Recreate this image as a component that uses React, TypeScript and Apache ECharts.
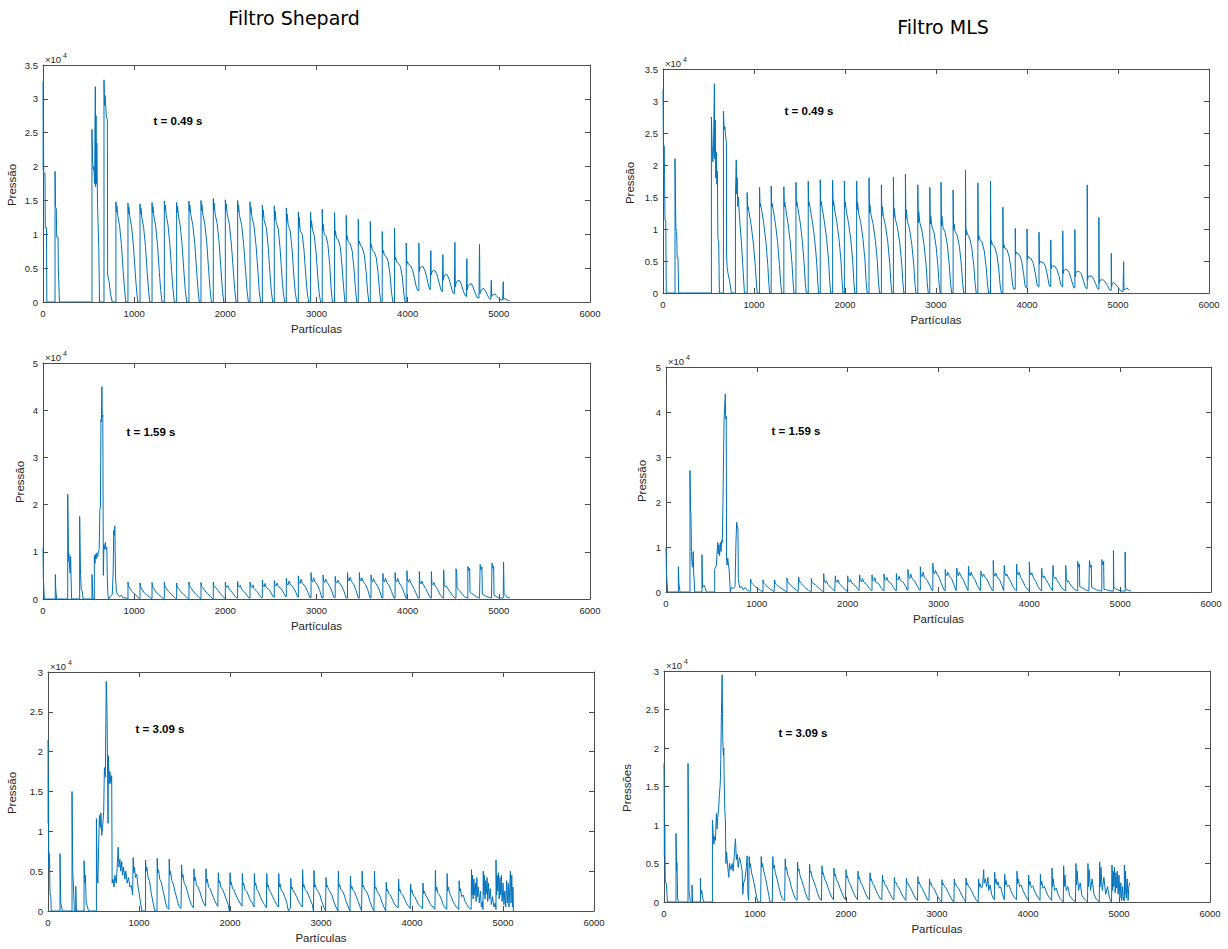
import React, { useEffect, useRef } from 'react';
import * as echarts from 'echarts';

// Pressure (units of 1e4) against particle index, Shepard filter, t = 0.49 s
const shepardT049: [number, number][] = [
  [0, 3.25], [3, 1.95], [5, 2.55], [8, 1.9], [22, 1.9], [25, 1.1], [38, 1.1], [42, 0],
  [132, 0], [132, 1.93], [138, 1.4], [146, 1.38], [150, 0.96], [165, 0.96], [168, 0.52], [175, 0.52], [180, 0],
  [537, 0], [537, 2.55], [545, 2.05], [552, 1.95], [558, 2.0], [566, 1.75], [574, 3.18], [577, 1.7], [582, 2.75], [586, 1.75], [590, 2.35], [594, 1.9], [598, 1.45], [605, 1.45], [612, 0.8], [620, 0],
  [669, 0], [669, 3.28], [675, 2.9], [680, 3.05], [686, 2.95], [695, 2.72], [706, 2.7], [709, 0.4], [725, 0.3], [740, 0.12], [760, 0],
  [800, 0], [800, 1.48], [805, 1.33], [810, 1.42], [820, 1.28], [840, 1.13], [860, 0.85], [880, 0.45], [895, 0.18], [908, 0],
  [932, 0], [932, 1.46], [937, 1.31], [942, 1.4], [952, 1.26], [972, 1.11], [992, 0.83], [1012, 0.43], [1027, 0.16], [1040, 0],
  [1064, 0], [1064, 1.45], [1069, 1.3], [1074, 1.39], [1084, 1.25], [1104, 1.1], [1124, 0.82], [1144, 0.42], [1159, 0.15], [1172, 0],
  [1196, 0], [1196, 1.47], [1201, 1.32], [1206, 1.41], [1216, 1.27], [1236, 1.12], [1256, 0.84], [1276, 0.44], [1291, 0.17], [1306, 0],
  [1331, 0], [1331, 1.49], [1336, 1.34], [1341, 1.43], [1351, 1.29], [1371, 1.14], [1391, 0.86], [1411, 0.46], [1426, 0.19], [1440, 0],
  [1466, 0], [1466, 1.47], [1471, 1.32], [1476, 1.41], [1486, 1.27], [1506, 1.12], [1526, 0.84], [1546, 0.44], [1561, 0.17], [1576, 0],
  [1601, 0], [1601, 1.49], [1606, 1.34], [1611, 1.43], [1621, 1.29], [1643, 1.14], [1665, 0.86], [1685, 0.46], [1700, 0.19], [1714, 0],
  [1733, 0], [1733, 1.5], [1738, 1.35], [1743, 1.44], [1753, 1.3], [1775, 1.15], [1797, 0.87], [1817, 0.47], [1832, 0.2], [1847, 0],
  [1868, 0], [1868, 1.53], [1873, 1.36], [1878, 1.46], [1888, 1.3], [1910, 1.16], [1932, 0.88], [1952, 0.48], [1967, 0.2], [1982, 0],
  [2000, 0], [2000, 1.51], [2005, 1.35], [2010, 1.45], [2020, 1.3], [2044, 1.15], [2066, 0.86], [2088, 0.46], [2103, 0.18], [2118, 0],
  [2135, 0], [2135, 1.5], [2140, 1.33], [2145, 1.43], [2155, 1.28], [2179, 1.14], [2201, 0.85], [2223, 0.45], [2238, 0.17], [2253, 0],
  [2271, 0], [2271, 1.48], [2276, 1.32], [2281, 1.4], [2291, 1.26], [2315, 1.12], [2337, 0.83], [2359, 0.43], [2372, 0.15], [2388, 0],
  [2406, 0], [2406, 1.43], [2411, 1.25], [2416, 1.36], [2426, 1.2], [2450, 1.1], [2470, 0.82], [2490, 0.42], [2505, 0.15], [2520, 0],
  [2537, 0], [2537, 1.42], [2542, 1.22], [2547, 1.34], [2557, 1.18], [2580, 1.08], [2600, 0.8], [2620, 0.4], [2636, 0.14], [2652, 0],
  [2669, 0], [2669, 1.39], [2674, 1.18], [2679, 1.3], [2689, 1.14], [2712, 1.05], [2732, 0.78], [2752, 0.38], [2768, 0.13], [2784, 0],
  [2801, 0], [2801, 1.33], [2806, 1.1], [2811, 1.25], [2821, 1.05], [2844, 1.0], [2864, 0.75], [2884, 0.36], [2900, 0.12], [2916, 0],
  [2935, 0], [2935, 1.33], [2940, 1.1], [2945, 1.2], [2955, 1.08], [2975, 0.98], [2995, 0.74], [3015, 0.36], [3030, 0.12], [3045, 0],
  [3063, 0], [3063, 1.37], [3068, 1.05], [3073, 1.15], [3085, 1.0], [3105, 0.97], [3125, 0.85], [3145, 0.55], [3160, 0.2], [3175, 0],
  [3198, 0], [3198, 1.32], [3203, 0.98], [3208, 1.05], [3220, 0.94], [3240, 0.92], [3262, 0.8], [3282, 0.5], [3298, 0.2], [3312, 0],
  [3326, 0], [3326, 1.28], [3331, 0.92], [3336, 0.98], [3348, 0.89], [3370, 0.86], [3392, 0.75], [3412, 0.48], [3428, 0.18], [3442, 0],
  [3458, 0], [3458, 1.22], [3463, 0.85], [3470, 0.9], [3482, 0.84], [3502, 0.8], [3524, 0.7], [3544, 0.45], [3560, 0.16], [3574, 0],
  [3590, 0], [3590, 1.19], [3595, 0.8], [3602, 0.85], [3614, 0.76], [3634, 0.74], [3656, 0.65], [3676, 0.42], [3692, 0.15], [3706, 0],
  [3721, 0], [3721, 1.04], [3726, 0.72], [3733, 0.76], [3745, 0.69], [3765, 0.67], [3787, 0.6], [3807, 0.4], [3823, 0.14], [3838, 0],
  [3856, 0], [3856, 1.09], [3861, 0.62], [3868, 0.66], [3880, 0.59], [3900, 0.57], [3922, 0.52], [3942, 0.36], [3958, 0.12], [3972, 0],
  [3984, 0], [3984, 0.87], [3989, 0.55], [3996, 0.6], [4008, 0.56], [4030, 0.54], [4052, 0.48], [4075, 0.35], [4095, 0.22], [4110, 0.17],
  [4123, 0.17], [4123, 0.87], [4128, 0.45], [4135, 0.5], [4150, 0.52], [4170, 0.52], [4190, 0.46], [4210, 0.36], [4232, 0.22], [4248, 0.18],
  [4254, 0.18], [4254, 0.76], [4259, 0.4], [4266, 0.44], [4282, 0.47], [4302, 0.46], [4322, 0.4], [4342, 0.3], [4365, 0.18], [4380, 0.15],
  [4386, 0.15], [4386, 0.7], [4391, 0.32], [4398, 0.37], [4414, 0.41], [4434, 0.4], [4454, 0.34], [4474, 0.24], [4495, 0.14], [4512, 0.12],
  [4518, 0.12], [4518, 0.88], [4523, 0.22], [4530, 0.28], [4546, 0.31], [4566, 0.32], [4586, 0.27], [4606, 0.18], [4628, 0.1], [4645, 0.08],
  [4649, 0.08], [4649, 0.64], [4654, 0.18], [4662, 0.23], [4678, 0.26], [4698, 0.27], [4718, 0.22], [4738, 0.14], [4760, 0.07], [4782, 0.06],
  [4788, 0.06], [4788, 0.85], [4793, 0.12], [4800, 0.16], [4815, 0.19], [4835, 0.2], [4855, 0.16], [4875, 0.1], [4895, 0.05], [4912, 0.04],
  [4917, 0.04], [4917, 0.32], [4922, 0.08], [4935, 0.11], [4955, 0.12], [4975, 0.09], [5000, 0.05], [5025, 0.03], [5042, 0.03],
  [5048, 0.03], [5048, 0.3], [5053, 0.04], [5070, 0.05], [5090, 0.03], [5105, 0.02], [5118, 0.02],
];

// MLS filter, t = 0.49 s
const mlsT049: [number, number][] = [
  [0, 3.17], [4, 2.37], [7, 1.82], [12, 2.3], [17, 1.85], [22, 1.14], [30, 1.14], [36, 0],
  [132, 0], [132, 2.1], [138, 1.38], [142, 1.0], [150, 0.96], [156, 0.55], [165, 0.55], [172, 0],
  [532, 0], [532, 2.75], [540, 2.3], [548, 2.05], [555, 2.25], [565, 3.27], [568, 2.1], [574, 2.7], [580, 1.8], [586, 2.2], [592, 1.7], [598, 1.9], [603, 0.85], [612, 0.8], [620, 0],
  [664, 0], [664, 2.84], [672, 2.55], [680, 2.6], [688, 2.45], [697, 2.35], [698, 0.6], [705, 0.4], [715, 0.3], [730, 0.2], [752, 0],
  [796, 0], [796, 1.5], [805, 2.08], [810, 1.55], [815, 1.8], [822, 1.35], [828, 1.5], [840, 1.2], [862, 0.78], [880, 0.36], [895, 0],
  [925, 0], [925, 1.57], [930, 1.3], [935, 1.35], [947, 1.25], [970, 1.05], [995, 0.75], [1015, 0.4], [1027, 0.14], [1035, 0],
  [1061, 0], [1061, 1.65], [1066, 1.35], [1071, 1.4], [1083, 1.3], [1106, 1.1], [1131, 0.8], [1151, 0.45], [1163, 0.15], [1172, 0],
  [1189, 0], [1189, 1.67], [1194, 1.35], [1199, 1.4], [1211, 1.3], [1234, 1.1], [1259, 0.8], [1279, 0.45], [1293, 0.15], [1305, 0],
  [1328, 0], [1328, 1.66], [1333, 1.35], [1338, 1.42], [1350, 1.3], [1373, 1.1], [1398, 0.8], [1418, 0.45], [1430, 0.15], [1440, 0],
  [1461, 0], [1461, 1.73], [1466, 1.36], [1471, 1.42], [1483, 1.32], [1506, 1.12], [1531, 0.82], [1551, 0.46], [1564, 0.15], [1575, 0],
  [1596, 0], [1596, 1.75], [1601, 1.36], [1606, 1.42], [1618, 1.32], [1641, 1.12], [1666, 0.85], [1688, 0.5], [1700, 0.18], [1710, 0],
  [1728, 0], [1728, 1.77], [1733, 1.36], [1738, 1.43], [1750, 1.32], [1773, 1.12], [1798, 0.85], [1820, 0.5], [1832, 0.18], [1842, 0],
  [1864, 0], [1864, 1.76], [1869, 1.36], [1874, 1.44], [1886, 1.3], [1909, 1.12], [1934, 0.85], [1956, 0.5], [1968, 0.18], [1978, 0],
  [1993, 0], [1993, 1.75], [1998, 1.34], [2003, 1.42], [2015, 1.28], [2038, 1.1], [2063, 0.84], [2085, 0.5], [2097, 0.18], [2108, 0],
  [2128, 0], [2128, 1.75], [2133, 1.3], [2138, 1.42], [2150, 1.25], [2173, 1.1], [2198, 0.84], [2220, 0.5], [2232, 0.18], [2243, 0],
  [2264, 0], [2264, 1.8], [2269, 1.25], [2274, 1.38], [2286, 1.22], [2309, 1.08], [2334, 0.82], [2356, 0.48], [2368, 0.17], [2380, 0],
  [2400, 0], [2400, 1.69], [2405, 1.2], [2410, 1.35], [2422, 1.2], [2445, 1.05], [2470, 0.8], [2492, 0.46], [2504, 0.16], [2515, 0],
  [2532, 0], [2532, 1.81], [2537, 1.18], [2542, 1.32], [2554, 1.15], [2577, 1.02], [2602, 0.78], [2624, 0.45], [2636, 0.16], [2647, 0],
  [2664, 0], [2664, 1.86], [2669, 1.15], [2674, 1.3], [2686, 1.12], [2709, 1.0], [2734, 0.76], [2756, 0.44], [2768, 0.15], [2780, 0],
  [2800, 0], [2800, 1.69], [2805, 1.1], [2810, 1.28], [2822, 1.1], [2845, 0.98], [2870, 0.74], [2892, 0.42], [2904, 0.15], [2915, 0],
  [2932, 0], [2932, 1.65], [2937, 1.08], [2942, 1.2], [2954, 1.05], [2977, 0.95], [3002, 0.72], [3022, 0.4], [3034, 0.14], [3045, 0],
  [3055, 0], [3055, 1.73], [3060, 1.05], [3065, 1.2], [3077, 1.02], [3100, 0.95], [3125, 0.75], [3147, 0.42], [3160, 0.15], [3172, 0],
  [3188, 0], [3188, 1.61], [3193, 0.98], [3198, 1.08], [3210, 0.96], [3233, 0.9], [3258, 0.72], [3280, 0.42], [3293, 0.15], [3305, 0],
  [3324, 0], [3324, 1.92], [3329, 0.9], [3334, 0.98], [3346, 0.92], [3369, 0.86], [3394, 0.7], [3416, 0.42], [3430, 0.15], [3442, 0],
  [3460, 0], [3460, 1.72], [3465, 0.82], [3470, 0.9], [3482, 0.84], [3505, 0.8], [3530, 0.66], [3552, 0.4], [3566, 0.14], [3578, 0],
  [3599, 0], [3599, 1.75], [3604, 0.75], [3609, 0.82], [3621, 0.76], [3644, 0.72], [3669, 0.6], [3691, 0.36], [3705, 0.12], [3718, 0],
  [3735, 0], [3735, 1.34], [3740, 0.7], [3745, 0.76], [3757, 0.7], [3780, 0.68], [3805, 0.56], [3827, 0.34], [3842, 0.12], [3855, 0.06],
  [3871, 0.06], [3871, 1.01], [3876, 0.6], [3881, 0.64], [3893, 0.62], [3916, 0.6], [3941, 0.5], [3963, 0.3], [3978, 0.12], [3990, 0.08],
  [4000, 0.08], [4000, 1.0], [4005, 0.52], [4010, 0.58], [4022, 0.55], [4045, 0.54], [4070, 0.46], [4092, 0.3], [4110, 0.14], [4122, 0.1],
  [4132, 0.1], [4132, 0.95], [4137, 0.45], [4142, 0.5], [4154, 0.48], [4177, 0.48], [4202, 0.42], [4224, 0.28], [4240, 0.14], [4252, 0.1],
  [4261, 0.1], [4261, 0.83], [4266, 0.38], [4271, 0.43], [4283, 0.42], [4306, 0.42], [4331, 0.36], [4353, 0.26], [4370, 0.14], [4383, 0.1],
  [4393, 0.1], [4393, 0.97], [4398, 0.3], [4403, 0.36], [4415, 0.36], [4438, 0.37], [4463, 0.32], [4485, 0.22], [4505, 0.12], [4517, 0.08],
  [4526, 0.08], [4526, 0.99], [4531, 0.25], [4536, 0.32], [4548, 0.33], [4571, 0.34], [4596, 0.3], [4618, 0.2], [4640, 0.1], [4652, 0.07],
  [4662, 0.07], [4662, 1.69], [4666, 0.2], [4671, 0.26], [4683, 0.26], [4706, 0.27], [4731, 0.22], [4753, 0.15], [4772, 0.08], [4782, 0.06],
  [4790, 0.06], [4790, 1.18], [4794, 0.15], [4800, 0.2], [4812, 0.2], [4835, 0.21], [4860, 0.17], [4882, 0.12], [4905, 0.06], [4918, 0.04],
  [4926, 0.04], [4926, 0.62], [4930, 0.1], [4936, 0.15], [4950, 0.16], [4972, 0.14], [4995, 0.1], [5020, 0.05], [5040, 0.03], [5055, 0.02],
  [5062, 0.02], [5062, 0.49], [5066, 0.05], [5080, 0.06], [5100, 0.08], [5115, 0.05], [5120, 0.06],
];

// Shepard filter, t = 1.59 s
const shepardT159: [number, number][] = [
  [0, 1.08], [4, 0.44], [10, 0.44], [15, 0],
  [135, 0], [135, 0.52], [140, 0.2], [146, 0.2], [150, 0],
  [271, 0], [271, 2.22], [276, 1.55], [280, 0.8], [285, 0.95], [292, 0.65], [298, 0.55], [303, 0.9], [308, 0.45], [314, 0],
  [402, 0], [402, 1.75], [408, 0.95], [412, 0.5], [420, 0.2], [432, 0.15], [440, 0],
  [537, 0], [537, 0.52], [542, 0.3], [548, 0],
  [563, 0], [563, 0.92], [570, 0.75], [578, 0.95], [585, 0.85], [592, 0.98], [600, 0.9], [608, 1.0], [616, 1.05], [624, 1.9], [630, 1.95], [636, 3.8], [640, 3.75], [646, 4.5], [650, 3.85], [656, 3.9], [662, 0.5], [668, 1.15], [676, 1.05], [684, 1.2], [692, 1.05], [700, 1.1], [706, 0.4], [712, 0.1], [720, 0],
  [740, 0.05], [760, 0.1], [770, 0.6], [776, 1.45], [782, 1.35], [788, 1.55], [795, 0.5], [805, 0.15], [820, 0.1], [840, 0.05], [860, 0.08], [880, 0.02], [900, 0.03], [920, 0],
  [932, 0], [932, 0.36], [938, 0.28], [952, 0.23], [977, 0.16], [1007, 0.1], [1037, 0.05], [1054, 0.01],
  [1064, 0.01], [1064, 0.34], [1070, 0.26], [1084, 0.21], [1109, 0.14], [1139, 0.08], [1169, 0.04], [1186, 0.01],
  [1196, 0.01], [1196, 0.35], [1202, 0.27], [1216, 0.22], [1241, 0.15], [1271, 0.09], [1301, 0.04], [1320, 0.01],
  [1331, 0.01], [1331, 0.36], [1337, 0.28], [1351, 0.23], [1376, 0.16], [1406, 0.1], [1436, 0.05], [1455, 0.01],
  [1466, 0.01], [1466, 0.34], [1472, 0.26], [1486, 0.22], [1511, 0.16], [1541, 0.1], [1571, 0.05], [1590, 0.01],
  [1601, 0.01], [1601, 0.36], [1607, 0.28], [1621, 0.24], [1646, 0.17], [1676, 0.1], [1706, 0.05], [1722, 0.01],
  [1733, 0.01], [1733, 0.35], [1739, 0.27], [1753, 0.24], [1778, 0.17], [1808, 0.11], [1838, 0.05], [1857, 0.01],
  [1868, 0.01], [1868, 0.36], [1874, 0.28], [1888, 0.25], [1913, 0.2], [1943, 0.12], [1973, 0.05], [1990, 0.02],
  [2000, 0.02], [2000, 0.36], [2006, 0.27], [2020, 0.25], [2030, 0.28], [2045, 0.2], [2075, 0.14], [2105, 0.06], [2125, 0.02],
  [2135, 0.02], [2135, 0.37], [2141, 0.28], [2155, 0.25], [2165, 0.29], [2180, 0.2], [2210, 0.15], [2240, 0.07], [2260, 0.02],
  [2271, 0.02], [2271, 0.36], [2277, 0.27], [2291, 0.24], [2301, 0.3], [2316, 0.22], [2346, 0.16], [2376, 0.08], [2396, 0.03],
  [2406, 0.03], [2406, 0.4], [2412, 0.3], [2426, 0.26], [2436, 0.33], [2451, 0.24], [2481, 0.2], [2511, 0.1], [2528, 0.04],
  [2537, 0.04], [2537, 0.39], [2543, 0.3], [2557, 0.28], [2567, 0.34], [2582, 0.26], [2612, 0.22], [2642, 0.12], [2660, 0.05],
  [2669, 0.05], [2669, 0.44], [2675, 0.32], [2689, 0.3], [2699, 0.38], [2714, 0.3], [2744, 0.25], [2774, 0.14], [2792, 0.04],
  [2801, 0.04], [2801, 0.49], [2807, 0.36], [2821, 0.33], [2831, 0.42], [2846, 0.33], [2876, 0.27], [2906, 0.14], [2928, 0.03],
  [2940, 0.02], [2940, 0.56], [2946, 0.4], [2958, 0.36], [2968, 0.45], [2985, 0.36], [3010, 0.3], [3035, 0.18], [3060, 0.02],
  [3072, 0.02], [3072, 0.51], [3078, 0.38], [3090, 0.35], [3100, 0.42], [3117, 0.35], [3142, 0.28], [3167, 0.17], [3192, 0.03],
  [3205, 0.03], [3205, 0.48], [3211, 0.36], [3223, 0.34], [3233, 0.4], [3250, 0.34], [3275, 0.28], [3300, 0.17], [3326, 0.02],
  [3340, 0.02], [3340, 0.56], [3346, 0.42], [3358, 0.38], [3368, 0.46], [3385, 0.37], [3410, 0.3], [3435, 0.18], [3458, 0.02],
  [3470, 0.02], [3470, 0.56], [3476, 0.42], [3488, 0.38], [3498, 0.45], [3515, 0.36], [3540, 0.3], [3565, 0.18], [3588, 0.02],
  [3598, 0.02], [3598, 0.51], [3604, 0.4], [3616, 0.36], [3626, 0.43], [3643, 0.35], [3668, 0.28], [3693, 0.17], [3718, 0.02],
  [3728, 0.02], [3728, 0.54], [3734, 0.4], [3746, 0.36], [3756, 0.44], [3773, 0.35], [3798, 0.28], [3823, 0.16], [3850, 0.02],
  [3862, 0.02], [3862, 0.56], [3868, 0.4], [3880, 0.36], [3890, 0.44], [3907, 0.34], [3932, 0.27], [3957, 0.15], [3982, 0.02],
  [3992, 0.02], [3992, 0.6], [3998, 0.4], [4010, 0.36], [4020, 0.42], [4037, 0.33], [4062, 0.25], [4087, 0.14], [4115, 0.02],
  [4128, 0.02], [4128, 0.58], [4134, 0.36], [4146, 0.32], [4156, 0.38], [4173, 0.3], [4198, 0.22], [4223, 0.12], [4250, 0.02],
  [4260, 0.02], [4260, 0.58], [4266, 0.33], [4278, 0.3], [4288, 0.35], [4305, 0.27], [4330, 0.2], [4355, 0.1], [4385, 0.02],
  [4395, 0.02], [4395, 0.62], [4401, 0.3], [4413, 0.26], [4423, 0.28], [4440, 0.22], [4465, 0.15], [4490, 0.08], [4520, 0.02],
  [4530, 0.02], [4530, 0.64], [4538, 0.58], [4542, 0.25], [4555, 0.2], [4575, 0.16], [4600, 0.1], [4625, 0.05], [4652, 0.02],
  [4660, 0.02], [4660, 0.69], [4670, 0.6], [4680, 0.65], [4684, 0.15], [4700, 0.12], [4730, 0.08], [4760, 0.04], [4788, 0.02],
  [4795, 0.02], [4795, 0.73], [4805, 0.62], [4815, 0.68], [4819, 0.1], [4840, 0.08], [4870, 0.05], [4900, 0.03], [4920, 0.02],
  [4925, 0.02], [4925, 0.76], [4935, 0.65], [4943, 0.7], [4947, 0.08], [4970, 0.05], [5000, 0.03], [5030, 0.02], [5048, 0.02],
  [5052, 0.02], [5052, 0.78], [5058, 0.1], [5075, 0.06], [5100, 0.03], [5120, 0.02],
];

// MLS filter, t = 1.59 s
const mlsT159: [number, number][] = [
  [0, 1.0], [5, 0.41], [12, 0.41], [18, 0],
  [136, 0], [136, 0.56], [142, 0.2], [147, 0.2], [154, 0],
  [264, 0], [264, 2.7], [270, 1.8], [275, 1.75], [280, 0.9], [286, 0.65], [292, 0.55], [300, 0.9], [305, 0.4], [310, 0.3], [316, 0],
  [396, 0], [396, 0.83], [402, 0.1], [420, 0.15], [430, 0.1], [444, 0],
  [536, 0], [536, 0.5], [545, 0.55], [555, 0.6], [569, 1.1], [575, 0.85], [582, 1.05], [590, 0.8], [598, 1.1], [606, 0.9], [612, 1.15], [620, 1.1], [627, 1.95], [633, 1.95], [639, 3.8], [645, 3.8], [653, 4.4], [657, 3.85], [663, 3.9], [667, 0.7], [672, 0.6], [680, 0.75], [688, 0.6], [695, 0.5], [708, 0],
  [720, 0.1], [740, 0.08], [760, 0.12], [770, 1.1], [778, 1.55], [786, 1.45], [792, 1.4], [796, 0.3], [810, 0.1], [830, 0.12], [850, 0.05], [870, 0.1], [895, 0.04], [915, 0.02],
  [932, 0.02], [932, 0.29], [938, 0.21], [952, 0.18], [977, 0.13], [1007, 0.08], [1037, 0.04], [1058, 0.01],
  [1068, 0.01], [1068, 0.27], [1074, 0.2], [1088, 0.17], [1113, 0.12], [1143, 0.07], [1173, 0.03], [1190, 0.01],
  [1196, 0.01], [1196, 0.27], [1202, 0.2], [1216, 0.17], [1241, 0.12], [1271, 0.08], [1301, 0.04], [1324, 0.01],
  [1332, 0.01], [1332, 0.31], [1338, 0.23], [1352, 0.2], [1377, 0.14], [1407, 0.09], [1437, 0.04], [1455, 0.01],
  [1461, 0.01], [1461, 0.33], [1467, 0.25], [1481, 0.2], [1506, 0.15], [1536, 0.09], [1566, 0.04], [1592, 0.01],
  [1600, 0.01], [1600, 0.3], [1606, 0.22], [1620, 0.19], [1645, 0.16], [1675, 0.1], [1705, 0.05], [1728, 0.01],
  [1736, 0.01], [1736, 0.41], [1742, 0.24], [1756, 0.21], [1766, 0.25], [1781, 0.17], [1811, 0.11], [1841, 0.05], [1858, 0.02],
  [1864, 0.02], [1864, 0.36], [1870, 0.24], [1884, 0.22], [1894, 0.27], [1909, 0.18], [1939, 0.12], [1969, 0.06], [1992, 0.02],
  [2000, 0.02], [2000, 0.36], [2006, 0.25], [2020, 0.22], [2030, 0.28], [2045, 0.2], [2075, 0.16], [2105, 0.08], [2125, 0.03],
  [2132, 0.03], [2132, 0.38], [2138, 0.26], [2152, 0.23], [2162, 0.3], [2177, 0.22], [2207, 0.17], [2237, 0.08], [2260, 0.03],
  [2268, 0.03], [2268, 0.38], [2274, 0.27], [2288, 0.24], [2298, 0.32], [2313, 0.22], [2343, 0.18], [2373, 0.08], [2392, 0.03],
  [2400, 0.03], [2400, 0.4], [2406, 0.28], [2420, 0.26], [2430, 0.33], [2445, 0.24], [2475, 0.2], [2505, 0.1], [2528, 0.03],
  [2536, 0.03], [2536, 0.41], [2542, 0.3], [2556, 0.27], [2566, 0.35], [2581, 0.26], [2611, 0.22], [2641, 0.12], [2656, 0.04],
  [2664, 0.04], [2664, 0.5], [2670, 0.34], [2684, 0.3], [2694, 0.4], [2709, 0.3], [2739, 0.24], [2769, 0.12], [2792, 0.04],
  [2800, 0.04], [2800, 0.56], [2806, 0.38], [2820, 0.34], [2830, 0.44], [2845, 0.33], [2875, 0.26], [2905, 0.14], [2930, 0.03],
  [2938, 0.03], [2938, 0.64], [2944, 0.44], [2956, 0.4], [2966, 0.48], [2983, 0.4], [3008, 0.32], [3033, 0.18], [3065, 0.03],
  [3074, 0.03], [3074, 0.5], [3080, 0.4], [3092, 0.36], [3102, 0.44], [3119, 0.36], [3144, 0.3], [3169, 0.16], [3195, 0.03],
  [3202, 0.03], [3202, 0.53], [3208, 0.4], [3220, 0.36], [3230, 0.44], [3247, 0.35], [3272, 0.28], [3297, 0.15], [3325, 0.03],
  [3331, 0.03], [3331, 0.57], [3337, 0.4], [3349, 0.36], [3359, 0.44], [3376, 0.35], [3401, 0.28], [3426, 0.15], [3460, 0.03],
  [3467, 0.03], [3467, 0.46], [3473, 0.38], [3485, 0.34], [3495, 0.4], [3512, 0.33], [3537, 0.27], [3562, 0.15], [3595, 0.03],
  [3603, 0.03], [3603, 0.7], [3609, 0.4], [3621, 0.35], [3631, 0.42], [3648, 0.33], [3673, 0.27], [3698, 0.14], [3718, 0.03],
  [3724, 0.03], [3724, 0.59], [3730, 0.42], [3742, 0.36], [3752, 0.4], [3769, 0.32], [3794, 0.24], [3819, 0.12], [3852, 0.03],
  [3860, 0.03], [3860, 0.62], [3866, 0.42], [3878, 0.38], [3888, 0.44], [3905, 0.32], [3930, 0.24], [3955, 0.12], [3992, 0.03],
  [4000, 0.03], [4000, 0.67], [4006, 0.45], [4018, 0.38], [4028, 0.42], [4045, 0.32], [4070, 0.24], [4095, 0.12], [4128, 0.03],
  [4136, 0.03], [4136, 0.53], [4142, 0.36], [4154, 0.32], [4164, 0.36], [4181, 0.28], [4206, 0.2], [4231, 0.1], [4255, 0.03],
  [4261, 0.03], [4261, 0.59], [4267, 0.35], [4279, 0.3], [4289, 0.33], [4306, 0.26], [4331, 0.18], [4356, 0.09], [4393, 0.03],
  [4401, 0.03], [4401, 0.59], [4407, 0.3], [4419, 0.22], [4429, 0.25], [4446, 0.18], [4471, 0.12], [4496, 0.06], [4525, 0.03],
  [4533, 0.03], [4533, 0.68], [4543, 0.55], [4551, 0.62], [4555, 0.12], [4575, 0.1], [4600, 0.07], [4630, 0.04], [4655, 0.02],
  [4662, 0.02], [4662, 0.7], [4672, 0.55], [4682, 0.6], [4686, 0.1], [4710, 0.08], [4740, 0.05], [4770, 0.03], [4790, 0.02],
  [4798, 0.02], [4798, 0.72], [4808, 0.6], [4818, 0.68], [4822, 0.06], [4850, 0.05], [4880, 0.03], [4910, 0.02],
  [4926, 0.02], [4926, 0.92], [4930, 0.12], [4945, 0.08], [4970, 0.05], [5000, 0.03], [5040, 0.02],
  [5055, 0.02], [5055, 0.89], [5059, 0.08], [5075, 0.05], [5100, 0.03], [5121, 0.02],
];

// Shepard filter, t = 3.09 s
const shepardT309: [number, number][] = [
  [0, 2.15], [3, 1.1], [5, 1.7], [8, 0.55], [12, 0.73], [18, 0.6], [22, 0.2], [30, 0.2], [36, 0],
  [132, 0], [132, 0.72], [140, 0.1], [150, 0.05], [158, 0],
  [264, 0], [264, 1.5], [272, 0.5], [280, 0.3], [290, 0], [305, 0], [305, 0.31], [312, 0],
  [396, 0], [396, 0.63], [405, 0.35], [411, 0.45], [420, 0.1], [435, 0.05], [444, 0],
  [532, 0], [532, 1.16], [540, 0.45], [548, 0.35], [556, 0.8], [565, 1.2], [575, 1.05], [582, 1.23], [590, 0.95], [600, 1.05], [612, 1.25], [620, 1.8], [630, 1.68], [640, 2.88], [648, 2.55], [654, 1.85], [660, 1.1], [664, 1.95], [672, 1.6], [680, 1.75], [690, 1.6], [700, 1.7], [705, 0.35],
  [715, 0.4], [725, 0.3], [735, 0.45], [750, 0.35], [760, 0.55], [771, 0.8], [780, 0.55], [790, 0.65], [800, 0.5], [810, 0.62], [820, 0.45], [830, 0.55], [845, 0.4], [855, 0.5], [870, 0.35], [885, 0.42], [900, 0.3], [915, 0.32], [930, 0.2],
  [936, 0.2], [936, 0.67], [942, 0.48], [950, 0.55], [962, 0.42], [975, 0.46], [990, 0.3], [1005, 0.2], [1020, 0.08], [1032, 0], [1060, 0],
  [1072, 0], [1072, 0.64], [1078, 0.5], [1086, 0.55], [1100, 0.42], [1115, 0.38], [1135, 0.22], [1155, 0.1], [1175, 0], [1198, 0],
  [1200, 0], [1200, 0.66], [1206, 0.48], [1214, 0.52], [1228, 0.4], [1245, 0.36], [1265, 0.25], [1285, 0.15], [1303, 0.05], [1328, 0.02],
  [1332, 0.02], [1332, 0.65], [1338, 0.45], [1346, 0.5], [1360, 0.38], [1377, 0.34], [1397, 0.24], [1417, 0.15], [1440, 0.06], [1462, 0.03],
  [1468, 0.03], [1468, 0.58], [1474, 0.42], [1482, 0.46], [1496, 0.35], [1513, 0.32], [1533, 0.24], [1553, 0.15], [1575, 0.08], [1598, 0.04],
  [1604, 0.04], [1604, 0.53], [1610, 0.38], [1618, 0.42], [1632, 0.32], [1649, 0.3], [1669, 0.24], [1689, 0.16], [1710, 0.1], [1732, 0.06],
  [1736, 0.06], [1736, 0.53], [1742, 0.36], [1750, 0.4], [1764, 0.3], [1781, 0.28], [1801, 0.22], [1821, 0.16], [1845, 0.1], [1866, 0.06],
  [1872, 0.06], [1872, 0.48], [1878, 0.35], [1886, 0.38], [1900, 0.3], [1917, 0.27], [1937, 0.22], [1957, 0.15], [1980, 0.08], [1993, 0],
  [2000, 0], [2000, 0.48], [2006, 0.33], [2014, 0.36], [2028, 0.28], [2045, 0.26], [2065, 0.2], [2085, 0.15], [2110, 0.1], [2132, 0.06],
  [2136, 0.06], [2136, 0.47], [2142, 0.32], [2150, 0.35], [2164, 0.27], [2181, 0.25], [2201, 0.2], [2221, 0.14], [2245, 0.1], [2264, 0.05],
  [2268, 0.05], [2268, 0.47], [2274, 0.32], [2282, 0.35], [2296, 0.27], [2313, 0.24], [2333, 0.18], [2353, 0.13], [2378, 0.08], [2400, 0.04],
  [2404, 0.04], [2404, 0.47], [2410, 0.3], [2418, 0.33], [2432, 0.26], [2449, 0.23], [2469, 0.18], [2489, 0.13], [2512, 0.08], [2532, 0.05],
  [2536, 0.05], [2536, 0.47], [2542, 0.3], [2550, 0.34], [2564, 0.26], [2581, 0.24], [2601, 0.18], [2621, 0.12], [2642, 0], [2664, 0.04],
  [2668, 0.04], [2668, 0.41], [2674, 0.28], [2682, 0.3], [2696, 0.25], [2713, 0.22], [2733, 0.18], [2753, 0.12], [2775, 0.08], [2795, 0.05],
  [2798, 0.05], [2798, 0.52], [2804, 0.3], [2812, 0.33], [2826, 0.27], [2843, 0.25], [2863, 0.2], [2883, 0.14], [2905, 0.08], [2917, 0],
  [2923, 0], [2923, 0.51], [2929, 0.3], [2937, 0.33], [2951, 0.27], [2968, 0.25], [2988, 0.2], [3008, 0.12], [3030, 0.05], [3050, 0],
  [3055, 0], [3055, 0.42], [3061, 0.3], [3069, 0.32], [3083, 0.27], [3100, 0.24], [3120, 0.2], [3140, 0.12], [3165, 0.05], [3186, 0],
  [3191, 0], [3191, 0.5], [3197, 0.3], [3205, 0.33], [3219, 0.27], [3236, 0.25], [3256, 0.2], [3276, 0.12], [3300, 0.05], [3318, 0],
  [3324, 0], [3324, 0.44], [3330, 0.28], [3338, 0.31], [3352, 0.26], [3369, 0.24], [3389, 0.18], [3409, 0.12], [3430, 0.05], [3446, 0],
  [3452, 0], [3452, 0.5], [3458, 0.3], [3466, 0.32], [3480, 0.27], [3497, 0.25], [3517, 0.2], [3537, 0.12], [3560, 0.05], [3582, 0],
  [3588, 0], [3588, 0.5], [3594, 0.28], [3602, 0.3], [3616, 0.25], [3633, 0.22], [3653, 0.17], [3673, 0.1], [3695, 0.04], [3712, 0],
  [3717, 0], [3717, 0.36], [3723, 0.25], [3731, 0.27], [3745, 0.22], [3762, 0.2], [3782, 0.15], [3802, 0.1], [3825, 0.06], [3848, 0.04],
  [3853, 0.04], [3853, 0.4], [3859, 0.25], [3867, 0.27], [3881, 0.22], [3898, 0.2], [3918, 0.15], [3938, 0.1], [3960, 0.06], [3980, 0.03],
  [3985, 0.03], [3985, 0.34], [3991, 0.24], [3999, 0.26], [4013, 0.2], [4030, 0.18], [4050, 0.13], [4070, 0.08], [4095, 0.05], [4116, 0.03],
  [4121, 0.03], [4121, 0.35], [4127, 0.22], [4135, 0.25], [4149, 0.2], [4166, 0.17], [4186, 0.12], [4206, 0.08], [4230, 0.05], [4252, 0.02],
  [4257, 0.02], [4257, 0.51], [4263, 0.25], [4271, 0.3], [4285, 0.22], [4302, 0.2], [4322, 0.15], [4342, 0.08], [4365, 0.04], [4382, 0.02],
  [4386, 0.02], [4386, 0.47], [4392, 0.25], [4400, 0.3], [4414, 0.22], [4431, 0.18], [4451, 0.12], [4471, 0.08], [4495, 0.04], [4514, 0.02],
  [4518, 0.02], [4518, 0.38], [4524, 0.25], [4532, 0.28], [4546, 0.18], [4563, 0.2], [4583, 0.12], [4603, 0.08], [4625, 0.04], [4650, 0.02],
  [4654, 0.02], [4654, 0.52], [4660, 0.2], [4666, 0.45], [4672, 0.15], [4680, 0.4], [4688, 0.2], [4696, 0.35], [4704, 0.12], [4712, 0.42], [4720, 0.18], [4730, 0.3], [4740, 0.1], [4752, 0.25], [4762, 0.05], [4775, 0.12], [4780, 0.02],
  [4783, 0.02], [4783, 0.5], [4790, 0.2], [4796, 0.45], [4803, 0.15], [4810, 0.38], [4818, 0.22], [4825, 0.42], [4832, 0.12], [4840, 0.35], [4850, 0.15], [4860, 0.28], [4872, 0.08], [4885, 0.18], [4900, 0.05], [4915, 0.1],
  [4923, 0.02], [4923, 0.64], [4930, 0.2], [4936, 0.45], [4942, 0.25], [4950, 0.48], [4958, 0.15], [4966, 0.42], [4974, 0.2], [4982, 0.45], [4990, 0.12], [5000, 0.35], [5010, 0.08], [5020, 0.25], [5030, 0.05], [5040, 0.38], [5048, 0.1], [5058, 0.35], [5066, 0.05], [5075, 0.3], [5081, 0.5], [5088, 0.1], [5096, 0.45], [5104, 0.05], [5110, 0.3], [5114, 0],
];

// MLS filter, t = 3.09 s
const mlsT309: [number, number][] = [
  [0, 1.8], [4, 0.6], [8, 1.0], [14, 0.25], [25, 0.25], [38, 0],
  [132, 0], [132, 0.89], [138, 0.4], [142, 0.52], [150, 0.05], [158, 0],
  [264, 0], [264, 1.8], [270, 0.9], [275, 0.15], [290, 0], [308, 0], [308, 0.22], [314, 0],
  [400, 0], [400, 0.31], [405, 0.1], [415, 0.15], [425, 0.05], [437, 0],
  [532, 0], [532, 1.06], [540, 0.9], [548, 0.75], [556, 0.85], [565, 0.8], [576, 1.15], [583, 0.95], [590, 1.1], [600, 1.2], [609, 1.4], [616, 1.5], [620, 1.6], [624, 1.85], [631, 2.45], [639, 2.95], [643, 2.4], [646, 2.1], [653, 1.9], [657, 2.0], [661, 1.6], [668, 1.2], [675, 1.05], [680, 0.5], [688, 0.65], [694, 0.55], [705, 0.4], [712, 0.32],
  [720, 0.5], [735, 0.42], [749, 0.5], [760, 0.4], [772, 0.6], [785, 0.82], [795, 0.55], [805, 0.62], [815, 0.45], [830, 0.58], [845, 0.5], [859, 0.4], [866, 0.1], [875, 0.25], [890, 0.3], [905, 0.45], [914, 0.6], [922, 0.1], [930, 0.02],
  [936, 0.02], [936, 0.59], [942, 0.45], [950, 0.5], [962, 0.38], [980, 0.3], [1000, 0.18], [1018, 0.06], [1030, 0], [1062, 0],
  [1068, 0], [1068, 0.59], [1074, 0.45], [1082, 0.5], [1096, 0.4], [1114, 0.32], [1134, 0.2], [1152, 0.08], [1165, 0], [1190, 0],
  [1196, 0], [1196, 0.59], [1202, 0.44], [1210, 0.48], [1224, 0.38], [1242, 0.3], [1262, 0.2], [1282, 0.1], [1300, 0.04], [1326, 0.02],
  [1332, 0.02], [1332, 0.56], [1338, 0.42], [1346, 0.45], [1360, 0.35], [1378, 0.3], [1398, 0.2], [1418, 0.12], [1440, 0.05], [1462, 0.02],
  [1468, 0.02], [1468, 0.52], [1474, 0.4], [1482, 0.43], [1496, 0.34], [1514, 0.28], [1534, 0.2], [1554, 0.12], [1575, 0.05], [1594, 0.02],
  [1600, 0.02], [1600, 0.49], [1606, 0.38], [1614, 0.4], [1628, 0.32], [1646, 0.27], [1666, 0.2], [1686, 0.12], [1708, 0.05], [1730, 0.02],
  [1736, 0.02], [1736, 0.47], [1742, 0.36], [1750, 0.38], [1764, 0.3], [1782, 0.26], [1802, 0.19], [1822, 0.12], [1845, 0.06], [1862, 0.03],
  [1868, 0.03], [1868, 0.44], [1874, 0.34], [1882, 0.36], [1896, 0.29], [1914, 0.25], [1934, 0.18], [1954, 0.12], [1975, 0.06], [1994, 0.03],
  [2000, 0.03], [2000, 0.42], [2006, 0.32], [2014, 0.34], [2028, 0.27], [2046, 0.23], [2066, 0.17], [2086, 0.11], [2108, 0.06], [2126, 0.03],
  [2132, 0.03], [2132, 0.4], [2138, 0.3], [2146, 0.32], [2160, 0.26], [2178, 0.22], [2198, 0.16], [2218, 0.1], [2240, 0.05], [2258, 0.03],
  [2264, 0.03], [2264, 0.38], [2270, 0.28], [2278, 0.3], [2292, 0.24], [2310, 0.21], [2330, 0.15], [2350, 0.1], [2372, 0.05], [2394, 0.03],
  [2400, 0.03], [2400, 0.35], [2406, 0.26], [2414, 0.28], [2428, 0.23], [2446, 0.2], [2466, 0.15], [2486, 0.1], [2508, 0.05], [2526, 0.03],
  [2532, 0.03], [2532, 0.32], [2538, 0.25], [2546, 0.26], [2560, 0.22], [2578, 0.19], [2598, 0.14], [2618, 0.09], [2640, 0.05], [2658, 0.02],
  [2664, 0.02], [2664, 0.31], [2670, 0.24], [2678, 0.25], [2692, 0.21], [2710, 0.18], [2730, 0.13], [2750, 0.08], [2770, 0.04], [2786, 0.02],
  [2790, 0.02], [2790, 0.33], [2796, 0.24], [2804, 0.26], [2818, 0.21], [2836, 0.18], [2856, 0.13], [2876, 0.08], [2895, 0.03], [2912, 0.02],
  [2918, 0.02], [2918, 0.3], [2924, 0.23], [2932, 0.25], [2946, 0.2], [2964, 0.18], [2984, 0.13], [3004, 0.08], [3030, 0.03], [3052, 0],
  [3055, 0], [3055, 0.29], [3061, 0.22], [3069, 0.24], [3083, 0.2], [3101, 0.18], [3121, 0.13], [3141, 0.08], [3165, 0.03], [3186, 0],
  [3190, 0], [3190, 0.3], [3196, 0.22], [3204, 0.24], [3218, 0.2], [3236, 0.18], [3256, 0.13], [3276, 0.08], [3300, 0.03], [3315, 0],
  [3319, 0], [3319, 0.31], [3325, 0.22], [3333, 0.25], [3347, 0.2], [3365, 0.18], [3385, 0.13], [3405, 0.08], [3430, 0.03], [3452, 0],
  [3458, 0], [3458, 0.3], [3464, 0.2], [3472, 0.24], [3486, 0.18], [3500, 0.2], [3513, 0.42], [3518, 0.25], [3530, 0.3], [3545, 0.2], [3560, 0.32], [3568, 0.15], [3585, 0.22], [3600, 0.1], [3618, 0.05], [3630, 0.03],
  [3634, 0.03], [3634, 0.39], [3640, 0.25], [3648, 0.3], [3660, 0.22], [3672, 0.26], [3685, 0.18], [3700, 0.2], [3715, 0.12], [3730, 0.06], [3740, 0.03],
  [3744, 0.03], [3744, 0.36], [3750, 0.22], [3758, 0.28], [3772, 0.2], [3790, 0.22], [3810, 0.15], [3830, 0.1], [3855, 0.05], [3874, 0.03],
  [3879, 0.03], [3879, 0.4], [3885, 0.24], [3893, 0.3], [3907, 0.2], [3925, 0.22], [3945, 0.15], [3965, 0.1], [3985, 0.05], [4002, 0.03],
  [4007, 0.03], [4007, 0.35], [4013, 0.22], [4021, 0.27], [4035, 0.19], [4053, 0.21], [4073, 0.14], [4093, 0.09], [4115, 0.05], [4132, 0.02],
  [4136, 0.02], [4136, 0.36], [4142, 0.22], [4150, 0.27], [4164, 0.18], [4182, 0.2], [4202, 0.13], [4222, 0.08], [4245, 0.04], [4260, 0.02],
  [4264, 0.02], [4264, 0.44], [4270, 0.2], [4278, 0.3], [4292, 0.15], [4310, 0.18], [4330, 0.1], [4350, 0.05], [4372, 0.02], [4388, 0],
  [4392, 0], [4392, 0.47], [4398, 0.2], [4406, 0.35], [4420, 0.15], [4438, 0.2], [4458, 0.08], [4478, 0.05], [4500, 0.02], [4522, 0],
  [4527, 0], [4527, 0.5], [4533, 0.22], [4541, 0.4], [4555, 0.15], [4573, 0.25], [4593, 0.08], [4613, 0.05], [4635, 0.02], [4654, 0],
  [4659, 0], [4659, 0.5], [4665, 0.2], [4673, 0.42], [4687, 0.15], [4705, 0.3], [4725, 0.1], [4745, 0.05], [4765, 0.02], [4783, 0],
  [4788, 0], [4788, 0.52], [4794, 0.2], [4802, 0.45], [4816, 0.15], [4834, 0.32], [4854, 0.1], [4874, 0.2], [4895, 0.05], [4918, 0],
  [4923, 0], [4923, 0.48], [4930, 0.15], [4936, 0.4], [4942, 0.2], [4950, 0.45], [4958, 0.12], [4966, 0.38], [4974, 0.18], [4982, 0.4], [4990, 0.1], [5000, 0.35], [5010, 0.05], [5020, 0.25], [5030, 0.02], [5040, 0.2], [5050, 0.02],
  [5059, 0.02], [5059, 0.48], [5066, 0.1], [5072, 0.4], [5080, 0.05], [5090, 0.3], [5100, 0.02], [5108, 0.2], [5117, 0.25],
];

const columnTitles = ['Filtro Shepard', 'Filtro MLS'];
const timeLabels = ['t = 0.49 s', 't = 0.49 s', 't = 1.59 s', 't = 1.59 s', 't = 3.09 s', 't = 3.09 s'];
const yNames = ['Pressão', 'Pressão', 'Pressão', 'Pressão', 'Pressão', 'Pressões'];
const xName = 'Partículas';
const yMaxes = [3.5, 3.5, 5, 5, 3, 3];
const yIntervals = [0.5, 0.5, 1, 1, 0.5, 0.5];
const seriesData = [shepardT049, mlsT049, shepardT159, mlsT159, shepardT309, mlsT309];

// Layout of the six axes boxes (pixels)
const panels = [
  { left: 43, top: 65, width: 547, height: 237, tag: [178, 121], yName: [12, 185] },
  { left: 663, top: 69, width: 546, height: 224, tag: [809, 111], yName: [630, 183] },
  { left: 43, top: 363, width: 547, height: 236, tag: [151, 432], yName: [20, 482] },
  { left: 666, top: 367, width: 545, height: 225, tag: [796, 431], yName: [642, 481] },
  { left: 48, top: 672, width: 546, height: 239, tag: [160, 729], yName: [12, 793] },
  { left: 664, top: 671, width: 546, height: 231, tag: [803, 733], yName: [627, 788] },
];

const AXIS_COLOR = '#4d4d4d';
const TEXT_COLOR = '#262626';
const LINE_COLOR = '#0072BD';
const TICK_FONT = "'Liberation Sans Narrow', 'Liberation Sans', Arial, sans-serif";
const LABEL_FONT = "'Liberation Sans', Arial, sans-serif";

function buildOption() {
  const grid: any[] = [];
  const xAxis: any[] = [];
  const yAxis: any[] = [];
  const series: any[] = [];
  const graphic: any[] = [];

  panels.forEach((p, i) => {
    grid.push({ left: p.left, top: p.top, width: p.width, height: p.height, containLabel: false });
    const tick = { show: true, inside: true, length: 5, lineStyle: { color: AXIS_COLOR, width: 1 } };
    const line = { show: true, onZero: false, lineStyle: { color: AXIS_COLOR, width: 1 } };
    xAxis.push({
      type: 'value', gridIndex: i, min: 0, max: 6000, interval: 1000, position: 'bottom',
      axisLine: line, axisTick: tick, splitLine: { show: false },
      axisLabel: { color: TEXT_COLOR, fontSize: 9.5, fontFamily: TICK_FONT, margin: 6, formatter: (v: number) => String(v) },
    });
    xAxis.push({
      type: 'value', gridIndex: i, min: 0, max: 6000, interval: 1000, position: 'top',
      axisLine: line, axisTick: tick, splitLine: { show: false }, axisLabel: { show: false },
    });
    yAxis.push({
      type: 'value', gridIndex: i, min: 0, max: yMaxes[i], interval: yIntervals[i], position: 'left',
      axisLine: line, axisTick: tick, splitLine: { show: false },
      axisLabel: { color: TEXT_COLOR, fontSize: 9.5, fontFamily: TICK_FONT, margin: 5, formatter: (v: number) => String(v) },
    });
    yAxis.push({
      type: 'value', gridIndex: i, min: 0, max: yMaxes[i], interval: yIntervals[i], position: 'right',
      axisLine: line, axisTick: tick, splitLine: { show: false }, axisLabel: { show: false },
    });
    series.push({
      type: 'line', xAxisIndex: 2 * i, yAxisIndex: 2 * i, data: seriesData[i],
      symbol: 'none', showSymbol: false, silent: true, clip: true,
      lineStyle: { color: LINE_COLOR, width: 1 },
    });

    // exponent marker above the y axis
    graphic.push({
      type: 'text', x: p.left + 2, y: p.top - 5.5,
      style: { text: '×10', font: `9.5px ${TICK_FONT}`, fill: TEXT_COLOR, textAlign: 'left', textVerticalAlign: 'middle' },
    });
    graphic.push({
      type: 'text', x: p.left + 20, y: p.top - 10,
      style: { text: '4', font: `7px ${TICK_FONT}`, fill: TEXT_COLOR, textAlign: 'left', textVerticalAlign: 'middle' },
    });
    // time stamp
    graphic.push({
      type: 'text', x: p.tag[0], y: p.tag[1],
      style: { text: timeLabels[i], font: `bold 11.5px ${LABEL_FONT}`, fill: '#000', textAlign: 'center', textVerticalAlign: 'middle' },
    });
    // axis names
    graphic.push({
      type: 'text', x: p.yName[0], y: p.yName[1], rotation: Math.PI / 2,
      style: { text: yNames[i], font: `11.5px ${LABEL_FONT}`, fill: TEXT_COLOR, textAlign: 'center', textVerticalAlign: 'middle' },
    });
    graphic.push({
      type: 'text', x: p.left + p.width / 2, y: p.top + p.height + 27,
      style: { text: xName, font: `11.5px ${LABEL_FONT}`, fill: TEXT_COLOR, textAlign: 'center', textVerticalAlign: 'middle' },
    });
  });

  graphic.push({
    type: 'text', x: 294, y: 18,
    style: { text: columnTitles[0], font: "19px 'DejaVu Sans', sans-serif", fill: '#000', textAlign: 'center', textVerticalAlign: 'middle' },
  });
  graphic.push({
    type: 'text', x: 943, y: 27,
    style: { text: columnTitles[1], font: "19px 'DejaVu Sans', sans-serif", fill: '#000', textAlign: 'center', textVerticalAlign: 'middle' },
  });

  return { animation: false, backgroundColor: '#ffffff', grid, xAxis, yAxis, series, graphic };
}

export default function App() {
  const ref = useRef<HTMLDivElement>(null);
  useEffect(() => {
    if (!ref.current) return;
    const chart = echarts.init(ref.current, undefined, { renderer: 'svg' });
    chart.setOption(buildOption());
    return () => chart.dispose();
  }, []);
  return (
    <div
      ref={ref}
      style={{ position: 'absolute', left: 0, top: 0, width: 1228, height: 949, background: '#fff' }}
    />
  );
}
